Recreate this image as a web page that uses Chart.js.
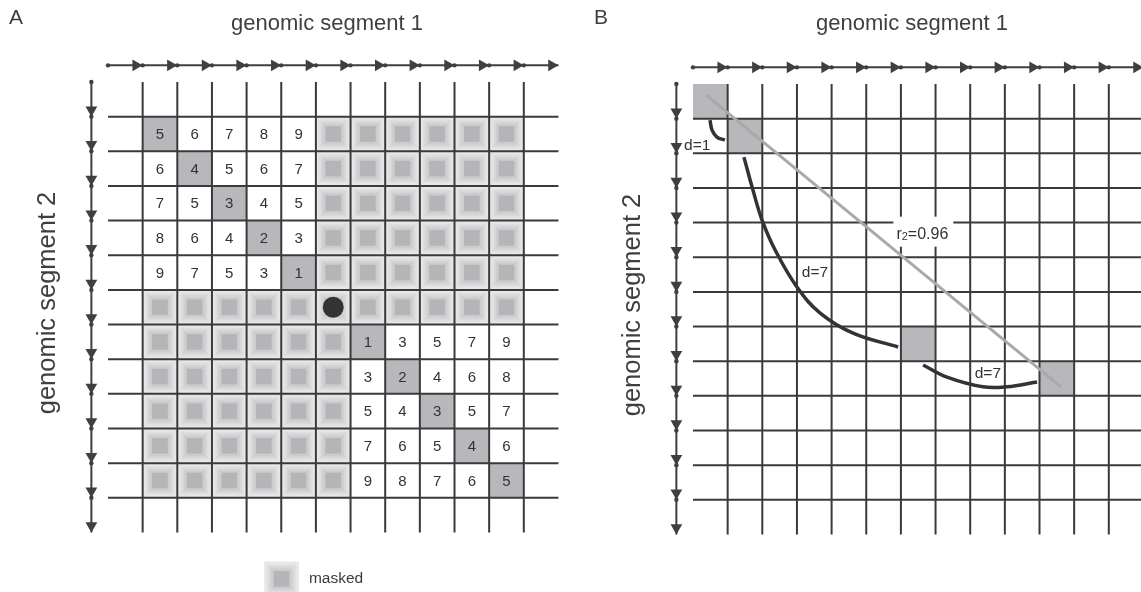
<!DOCTYPE html>
<html>
<head>
<meta charset="utf-8">
<script src="https://cdn.jsdelivr.net/npm/chart.js@4.4.0/dist/chart.umd.min.js"></script>
<style>
  html, body { margin: 0; padding: 0; background: #ffffff; }
  #wrap { position: relative; width: 1141px; height: 592px; overflow: hidden; }
  canvas { position: absolute; top: 0; }
  #panelA { left: 0; }
  #panelB { left: 570px; }
</style>
</head>
<body>
<div id="wrap">
  <canvas id="panelA" width="570" height="592"></canvas>
  <canvas id="panelB" width="571" height="592"></canvas>
</div>
<script>
// ---------- data ----------
const xTitle = 'genomic segment 1';
const yTitle = 'genomic segment 2';
const panelLetters = ['A', 'B'];

// bin boundaries along each genomic segment (arrow ticks); grid lines sit on the inner ones
const segmentBins = [0, 1, 2, 3, 4, 5, 6, 7, 8, 9, 10, 11, 12, 13];
const gridBins = [1, 2, 3, 4, 5, 6, 7, 8, 9, 10, 11, 12];

// panel A: bin distances, null = masked bin; first matrix cell starts at bin 1
const M = null;
const distanceMatrix = [
  [5, 6, 7, 8, 9, M, M, M, M, M, M],
  [6, 4, 5, 6, 7, M, M, M, M, M, M],
  [7, 5, 3, 4, 5, M, M, M, M, M, M],
  [8, 6, 4, 2, 3, M, M, M, M, M, M],
  [9, 7, 5, 3, 1, M, M, M, M, M, M],
  [M, M, M, M, M, M, M, M, M, M, M],
  [M, M, M, M, M, M, 1, 3, 5, 7, 9],
  [M, M, M, M, M, M, 3, 2, 4, 6, 8],
  [M, M, M, M, M, M, 5, 4, 3, 5, 7],
  [M, M, M, M, M, M, 7, 6, 5, 4, 6],
  [M, M, M, M, M, M, 9, 8, 7, 6, 5]
];
const matrixStart = 1;
const diagonalCells = [[1, 1], [2, 2], [3, 3], [4, 4], [5, 5], [7, 7], [8, 8], [9, 9], [10, 10], [11, 11]];
const viewpointCell = [6, 6];
const legendLabel = 'masked';

// panel B: contact bins, regression line and arcs between contacts
const contactCells = [[0, 0], [1, 1], [6, 7], [10, 8]];
const regressionLine = [{ x: 0.38, y: 0.32 }, { x: 10.62, y: 8.74 }];
const regressionLabel = { sym: 'r', sub: '2', rest: '=0.96', x: 6.62, y: 4.29 };
const arcNear = [{ x: 0.49, y: 1.04 }, { x: 0.55, y: 1.33 }, { x: 0.69, y: 1.53 }, { x: 0.92, y: 1.62 }];
const arcMid = [
  { x: 1.47, y: 2.11 }, { x: 1.73, y: 3.06 }, { x: 1.99, y: 3.92 }, { x: 2.37, y: 4.79 },
  { x: 3.00, y: 5.86 }, { x: 3.67, y: 6.61 }, { x: 4.62, y: 7.19 }, { x: 5.92, y: 7.59 }
];
const arcFar = [{ x: 6.64, y: 8.11 }, { x: 7.33, y: 8.46 }, { x: 8.37, y: 8.74 }, { x: 9.06, y: 8.74 }, { x: 9.93, y: 8.60 }];
const arcLabels = [
  { text: 'd=1', x: 0.12, y: 1.77 },
  { text: 'd=7', x: 3.52, y: 5.46 },
  { text: 'd=7', x: 8.51, y: 8.35 }
];

// ---------- drawing helpers ----------
const UNIT = 34.65;            // pixels per bin
const FONT = "'Liberation Sans', Arial, Helvetica, sans-serif";
const INK = '#3a3a3a';
const CONTACT_FILL = '#b8b8bc';
const MASK_RINGS = [
  [0, '#e7e7e7'], [3, '#dfdfdf'], [5, '#d6d6d6'], [7, '#cdcdcd'], [9.5, '#b5b5b9']
];

function drawMasked(ctx, x0, y0, x1, y1) {
  for (const [inset, col] of MASK_RINGS) {
    ctx.fillStyle = col;
    ctx.fillRect(x0 + inset, y0 + inset, (x1 - x0) - 2 * inset, (y1 - y0) - 2 * inset);
  }
}

function cellBox(chart, c, r) {
  const xs = chart.scales.x, ys = chart.scales.y;
  return [xs.getPixelForValue(c), ys.getPixelForValue(r), xs.getPixelForValue(c + 1), ys.getPixelForValue(r + 1)];
}

function segment(points, color, width, order, tension) {
  return {
    type: 'scatter', data: points, showLine: true, borderColor: color, borderWidth: width,
    pointRadius: 0, pointHoverRadius: 0, tension: tension || 0, order: order,
    borderCapStyle: 'butt', fill: false
  };
}

function frameDatasets() {
  const ds = [];
  const last = segmentBins[segmentBins.length - 1];
  // grid
  gridBins.forEach(b => {
    ds.push(segment([{ x: b, y: 0 }, { x: b, y: last }], INK, 2, 20));
    ds.push(segment([{ x: 0, y: b }, { x: last, y: b }], INK, 2, 20));
  });
  // arrow axes along both segments
  const axisPos = -0.48;
  const headR = 6.8;
  const headShift = headR / UNIT;
  ds.push(segment([{ x: 0, y: axisPos }, { x: last, y: axisPos }], '#3f3f3f', 2, 18));
  ds.push(segment([{ x: axisPos, y: 0 }, { x: axisPos, y: last }], '#3f3f3f', 2, 18));
  ds.push({
    type: 'scatter', order: 17, pointStyle: 'circle', pointRadius: 2.2, borderWidth: 0,
    backgroundColor: '#3f3f3f',
    data: segmentBins.slice(0, -1).map(b => ({ x: b, y: axisPos }))
      .concat(segmentBins.slice(0, -1).map(b => ({ x: axisPos, y: b })))
  });
  ds.push({
    type: 'scatter', order: 16, pointStyle: 'triangle', rotation: 90, pointRadius: headR,
    borderWidth: 0, backgroundColor: '#3f3f3f',
    data: segmentBins.slice(1).map(b => ({ x: b - headShift, y: axisPos }))
  });
  ds.push({
    type: 'scatter', order: 16, pointStyle: 'triangle', rotation: 180, pointRadius: headR,
    borderWidth: 0, backgroundColor: '#3f3f3f',
    data: segmentBins.slice(1).map(b => ({ x: axisPos, y: b - headShift }))
  });
  return ds;
}

function titlesPlugin(letter, originX, originY) {
  return {
    id: 'titles' + letter,
    afterDraw(chart) {
      const ctx = chart.ctx;
      ctx.save();
      ctx.fillStyle = '#3f3f3f';
      ctx.textAlign = 'center';
      ctx.textBaseline = 'middle';
      ctx.font = '21px ' + FONT;
      ctx.fillText(letter, originX - 92, 18);
      ctx.font = '22px ' + FONT;
      ctx.fillText(xTitle, originX + 219, 24);
      ctx.translate(originX - 60, originY + 221);
      ctx.rotate(-Math.PI / 2);
      ctx.font = '25.5px ' + FONT;
      ctx.fillText(yTitle, 0, 0);
      ctx.restore();
    }
  };
}

function scales(originX, originY, width, height) {
  const xmin = -originX / UNIT, ymin = -originY / UNIT;
  return {
    x: { type: 'linear', display: false, bounds: 'data', min: xmin, max: xmin + width / UNIT },
    y: { type: 'linear', display: false, bounds: 'data', reverse: true, min: ymin, max: ymin + height / UNIT }
  };
}

const baseOptions = {
  responsive: false, animation: false, devicePixelRatio: 1,
  layout: { padding: 0, autoPadding: false },
  plugins: { legend: { display: false }, tooltip: { enabled: false } },
  events: []
};

// ---------- panel A ----------
const originA = [108, 82];
const cellsA = {
  id: 'cellsA',
  beforeDatasetsDraw(chart) {
    const ctx = chart.ctx;
    ctx.save();
    distanceMatrix.forEach((row, ri) => row.forEach((v, ci) => {
      const [x0, y0, x1, y1] = cellBox(chart, ci + matrixStart, ri + matrixStart);
      if (v === null) drawMasked(ctx, x0, y0, x1, y1);
    }));
    diagonalCells.forEach(([c, r]) => {
      const [x0, y0, x1, y1] = cellBox(chart, c, r);
      ctx.fillStyle = CONTACT_FILL;
      ctx.fillRect(x0, y0, x1 - x0, y1 - y0);
    });
    // legend key
    const xs = chart.scales.x, ys = chart.scales.y;
    const kx = xs.getPixelForValue(4.51), ky = ys.getPixelForValue(13.84);
    drawMasked(ctx, kx, ky, kx + UNIT, ky + UNIT);
    ctx.fillStyle = '#3a3a3a';
    ctx.font = '15.5px ' + FONT;
    ctx.textAlign = 'left';
    ctx.textBaseline = 'middle';
    ctx.fillText(legendLabel, kx + UNIT + 10, ky + UNIT / 2);
    ctx.restore();
  },
  afterDatasetsDraw(chart) {
    const ctx = chart.ctx;
    ctx.save();
    ctx.fillStyle = '#333333';
    ctx.font = '15px ' + FONT;
    ctx.textAlign = 'center';
    ctx.textBaseline = 'middle';
    distanceMatrix.forEach((row, ri) => row.forEach((v, ci) => {
      if (v === null) return;
      const [x0, y0, x1, y1] = cellBox(chart, ci + matrixStart, ri + matrixStart);
      ctx.fillText(String(v), (x0 + x1) / 2, (y0 + y1) / 2 + 1);
    }));
    ctx.restore();
  }
};

new Chart(document.getElementById('panelA'), {
  type: 'scatter',
  data: {
    datasets: frameDatasets().concat([{
      type: 'scatter', order: 1, pointStyle: 'circle', pointRadius: 10.5, borderWidth: 0,
      backgroundColor: '#333333',
      data: [{ x: viewpointCell[0] + 0.5, y: viewpointCell[1] + 0.5 }]
    }])
  },
  options: Object.assign({}, baseOptions, { scales: scales(originA[0], originA[1], 570, 592) }),
  plugins: [cellsA, titlesPlugin(panelLetters[0], originA[0], originA[1])]
});

// ---------- panel B ----------
const originB = [693 - 570, 84];
const cellsB = {
  id: 'cellsB',
  beforeDatasetsDraw(chart) {
    const ctx = chart.ctx;
    ctx.save();
    ctx.fillStyle = CONTACT_FILL;
    contactCells.forEach(([c, r]) => {
      const [x0, y0, x1, y1] = cellBox(chart, c, r);
      ctx.fillRect(x0, y0, x1 - x0, y1 - y0);
    });
    ctx.restore();
  },
  afterDatasetsDraw(chart) {
    const ctx = chart.ctx;
    const xs = chart.scales.x, ys = chart.scales.y;
    ctx.save();
    ctx.fillStyle = '#333333';
    ctx.font = '15.5px ' + FONT;
    ctx.textAlign = 'center';
    ctx.textBaseline = 'middle';
    arcLabels.forEach(l => ctx.fillText(l.text, xs.getPixelForValue(l.x), ys.getPixelForValue(l.y)));
    // regression label on a white box
    const L = regressionLabel;
    const cx = xs.getPixelForValue(L.x), cy = ys.getPixelForValue(L.y);
    ctx.font = '16px ' + FONT;
    const w1 = ctx.measureText(L.sym).width, w3 = ctx.measureText(L.rest).width;
    ctx.font = '11px ' + FONT;
    const w2 = ctx.measureText(L.sub).width;
    const total = w1 + w2 + w3;
    ctx.fillStyle = '#ffffff';
    ctx.fillRect(cx - total / 2 - 3, cy - 16, total + 8, 30);
    ctx.fillStyle = '#333333';
    ctx.textAlign = 'left';
    ctx.textBaseline = 'alphabetic';
    let x = cx - total / 2;
    const base = cy + 6;
    ctx.font = '16px ' + FONT;
    ctx.fillText(L.sym, x, base); x += w1;
    ctx.font = '11px ' + FONT;
    ctx.fillText(L.sub, x, base + 1); x += w2;
    ctx.font = '16px ' + FONT;
    ctx.fillText(L.rest, x, base);
    ctx.restore();
  }
};

new Chart(document.getElementById('panelB'), {
  type: 'scatter',
  data: {
    datasets: frameDatasets().concat([
      segment(regressionLine, '#a9a9a9', 3, 5),
      segment(arcNear, '#333333', 3.5, 4, 0.4),
      segment(arcMid, '#333333', 3.5, 4, 0.4),
      segment(arcFar, '#333333', 3.5, 4, 0.4)
    ])
  },
  options: Object.assign({}, baseOptions, { scales: scales(originB[0], originB[1], 571, 592) }),
  plugins: [cellsB, titlesPlugin(panelLetters[1], originB[0], originB[1])]
});
</script>
</body>
</html>
